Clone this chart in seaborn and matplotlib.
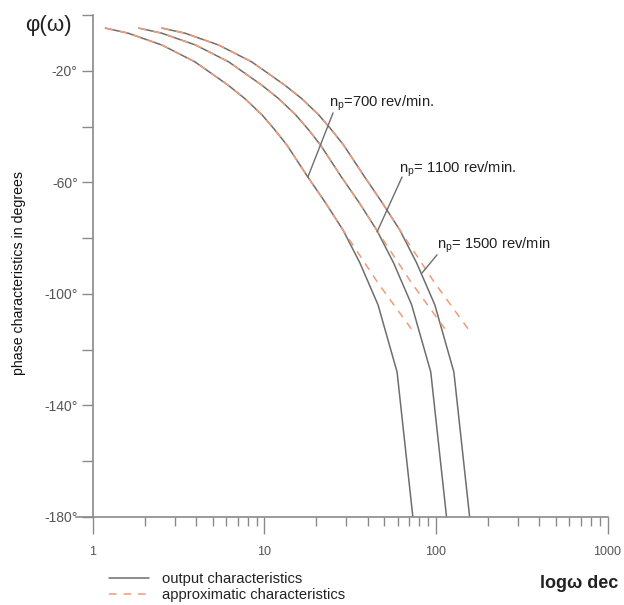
import numpy as np
import pandas as pd
import matplotlib
matplotlib.use("Agg")
import matplotlib.pyplot as plt
from matplotlib.lines import Line2D
from matplotlib.ticker import FixedLocator, NullFormatter
import seaborn as sns

# ---------------- data ----------------
curve_names = ["700", "1100", "1500"]

phase_output = [-4.7, -6.5, -10.8, -16.8, -25.1, -30.0, -35.8, -41.2, -46.6,
                -58.1, -67.0, -77.1, -88.9, -103.9, -128.0, -180.0]
omega_out_700 = [1.18, 1.60, 2.53, 3.93, 6.12, 7.69, 9.67, 11.5, 13.5,
                 17.9, 22.5, 28.7, 36.0, 45.9, 59.3, 73.3]
omega_out_1100 = [1.85, 2.51, 3.98, 6.18, 9.62, 12.1, 15.2, 18.1, 21.2,
                  28.1, 35.4, 45.1, 56.6, 72.1, 93.2, 115.2]
omega_out_1500 = [2.52, 3.43, 5.42, 8.42, 13.1, 16.5, 20.7, 24.6, 28.9,
                  38.4, 48.2, 61.5, 77.1, 98.4, 127.1, 157.1]

phase_approx = [-4.7, -6.5, -10.8, -16.8, -25.1, -30.0, -35.8, -41.2, -46.6,
                -58.1, -67.0, -77.1, -96.1, -113.3]
omega_apx_700 = [1.18, 1.60, 2.53, 3.93, 6.12, 7.69, 9.67, 11.5, 13.5,
                 17.9, 22.5, 28.7, 45.9, 73.3]
omega_apx_1100 = [1.85, 2.51, 3.98, 6.18, 9.62, 12.1, 15.2, 18.1, 21.2,
                  28.1, 35.4, 45.1, 72.1, 115.2]
omega_apx_1500 = [2.52, 3.43, 5.42, 8.42, 13.1, 16.5, 20.7, 24.6, 28.9,
                  38.4, 48.2, 61.5, 98.4, 157.1]

x_major = [1, 10, 100, 1000]
x_major_labels = ["1", "10", "100", "1000"]
y_major = [-20, -60, -100, -140, -180]
y_major_labels = ["-20°", "-60°", "-100°", "-140°", "-180°"]
y_minor = [0, -40, -80, -120, -160]

legend_labels = ["output characteristics", "approximatic characteristics"]
curve_labels = [r"n$_\mathregular{p}$=700 rev/min.",
                r"n$_\mathregular{p}$= 1100 rev/min.",
                r"n$_\mathregular{p}$= 1500 rev/min"]

# ---------------- tables ----------------
df_out = pd.concat([
    pd.DataFrame({"omega": w, "phase": phase_output, "curve": n})
    for w, n in zip([omega_out_700, omega_out_1100, omega_out_1500], curve_names)
], ignore_index=True)
df_apx = pd.concat([
    pd.DataFrame({"omega": w, "phase": phase_approx, "curve": n})
    for w, n in zip([omega_apx_700, omega_apx_1100, omega_apx_1500], curve_names)
], ignore_index=True)

# ---------------- style ----------------
sns.set_theme(style="white")
plt.rcParams["font.family"] = ["Liberation Sans", "DejaVu Sans"]
plt.rcParams["mathtext.fontset"] = "custom"
plt.rcParams["mathtext.rm"] = "Liberation Sans"

SOLID = "#6e6e6e"
DASH = "#f29a78"
AXC = "#8a8a8a"
TXT = "#555555"

W, H = 624, 605
fig = plt.figure(figsize=(W / 100, H / 100), dpi=100)
ax = fig.add_axes([76 / W, (H - 517) / H, (607.5 - 76) / W, (517 - 15) / H])

sns.lineplot(data=df_out, x="omega", y="phase", units="curve", estimator=None,
             sort=False, color=SOLID, lw=1.1, ax=ax)
sns.lineplot(data=df_apx, x="omega", y="phase", units="curve", estimator=None,
             sort=False, color=DASH, lw=1.1, linestyle=(0, (5, 4.5)), ax=ax)

ax.set_xscale("log")
ax.set_xlim(0.796, 1000)
ax.set_ylim(-180, 0)
ax.set_xlabel("")
ax.set_ylabel("")

for s in ["top", "right"]:
    ax.spines[s].set_visible(False)
ax.spines["left"].set_position(("data", 1))
for s in ["left", "bottom"]:
    ax.spines[s].set_color(AXC)
    ax.spines[s].set_linewidth(1.2)

ax.xaxis.set_major_locator(FixedLocator(x_major))
ax.set_xticklabels(x_major_labels)
ax.xaxis.set_minor_locator(FixedLocator(
    [m * d for d in [1, 10, 100] for m in range(2, 10)]))
ax.xaxis.set_minor_formatter(NullFormatter())
ax.tick_params(axis="x", which="major", direction="out", length=12.5, width=1,
               color=AXC, labelsize=9, labelcolor=TXT, pad=8.5, bottom=True)
ax.tick_params(axis="x", which="minor", direction="out", length=6.5, width=1,
               color=AXC, bottom=True)

ax.yaxis.set_major_locator(FixedLocator(y_major))
ax.set_yticklabels(y_major_labels)
ax.yaxis.set_minor_locator(FixedLocator(y_minor))
ax.tick_params(axis="y", which="both", direction="out", length=8, width=1,
               color=AXC, labelsize=10, labelcolor=TXT, pad=3, left=True)

# curve labels with leader lines
label_text_pos = [(23.8, -31.5), (60.8, -55.2), (101.4, -82.4)]
leader_from = [(25.1, -35.1), (63.4, -58.1), (101.4, -86.0)]
leader_to = [(17.9, -58.1), (45.3, -77.8), (82.9, -92.5)]
for lab, tp, lf, lt in zip(curve_labels, label_text_pos, leader_from, leader_to):
    ax.text(tp[0], tp[1], lab, fontsize=10.6, color="#222222", ha="left", va="center")
    ax.annotate("", xy=lt, xytext=lf,
                arrowprops=dict(arrowstyle="-", color=SOLID, lw=1,
                                shrinkA=0, shrinkB=0))

# axis titles
fig.text(48 / W, 1 - 26 / H, "φ(ω)", fontsize=16, color="#222222",
         ha="center", va="center")
fig.text(19 / W, 1 - 273 / H, "phase characteristics in degrees", fontsize=10.2,
         color="#111111", rotation=90, ha="center", va="center")
fig.text(579 / W, 1 - 583 / H, "logω dec", fontsize=13, fontweight="bold",
         color="#222222", ha="center", va="center")

# legend
handles = [Line2D([], [], color=SOLID, lw=1.1),
           Line2D([], [], color=DASH, lw=1.1, linestyle=(0, (5, 4.5)))]
fig.legend(handles, legend_labels, loc="upper left",
           bbox_to_anchor=(109 / W, 1 - 572 / H), frameon=False, fontsize=10.6,
           handlelength=2.7, handletextpad=0.9, labelspacing=0.12,
           borderpad=0, borderaxespad=0, labelcolor="#222222")

fig.savefig("out.png", dpi=100)
